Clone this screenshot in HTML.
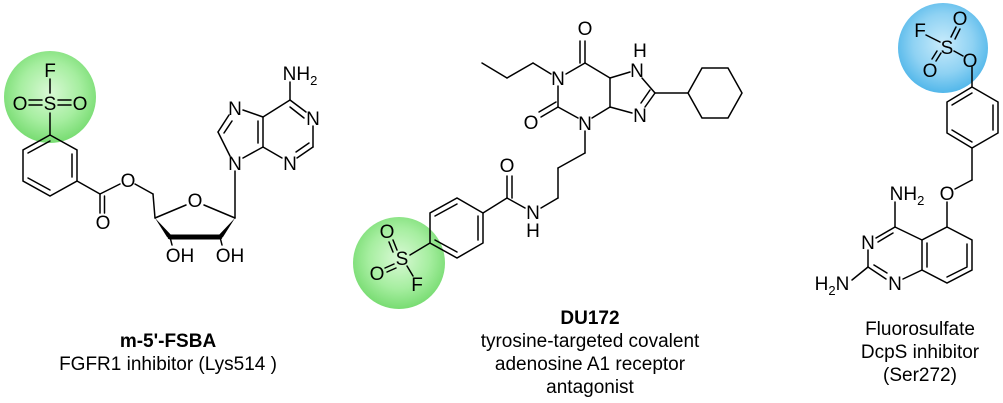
<!DOCTYPE html>
<html><head><meta charset="utf-8">
<style>
html,body{margin:0;padding:0;background:#fff;}
svg{display:block;}
.b{stroke:#000;stroke-width:1.5;fill:none;stroke-linecap:round;}
.a{font-family:"Liberation Sans",Arial,sans-serif;font-size:19px;fill:#000;text-anchor:middle;}
.s{font-size:13px;}
.l{font-family:"Liberation Sans",Arial,sans-serif;font-size:19px;fill:#000;text-anchor:middle;}
</style></head><body>
<svg width="1003" height="403" viewBox="0 0 1003 403" xmlns="http://www.w3.org/2000/svg">
<defs>
<radialGradient id="g" cx="50%" cy="45%" r="55%">
<stop offset="0" stop-color="#d9f9d5"/><stop offset="0.6" stop-color="#a6eea0"/><stop offset="1" stop-color="#78dc72"/></radialGradient>
<radialGradient id="bl" cx="50%" cy="45%" r="55%">
<stop offset="0" stop-color="#c8ebfb"/><stop offset="0.6" stop-color="#8fd2f3"/><stop offset="1" stop-color="#52b7ea"/></radialGradient>
</defs>
<circle cx="50" cy="97" r="46" fill="url(#g)"/>
<circle cx="399" cy="263" r="46" fill="url(#g)"/>
<circle cx="943" cy="48" r="45" fill="url(#bl)"/>

<!-- Molecule 1 -->
<g class="b">
<line x1="50" y1="79" x2="50" y2="93"/>
<line x1="29" y1="100" x2="42" y2="100"/><line x1="29" y1="105" x2="42" y2="105"/>
<line x1="58" y1="100" x2="71" y2="100"/><line x1="58" y1="105" x2="71" y2="105"/>
<line x1="50" y1="113" x2="50" y2="135"/>
<polygon points="50,135 77,150 77,181 50,196 23,181 23,150"/>
<line x1="72" y1="154" x2="72" y2="177"/>
<line x1="28" y1="178" x2="50" y2="190"/>
<line x1="28" y1="153" x2="50" y2="141"/>
<line x1="77" y1="181" x2="100" y2="194"/>
<line x1="100" y1="194" x2="100" y2="213"/><line x1="104.5" y1="196" x2="104.5" y2="213"/>
<line x1="100" y1="194" x2="120" y2="184"/>
<line x1="135" y1="184" x2="153" y2="194"/>
<line x1="153" y1="194" x2="155" y2="218"/>
<line x1="155" y1="218" x2="186" y2="205"/>
<line x1="204" y1="205" x2="235" y2="218"/>
<line x1="170" y1="237" x2="220" y2="237" stroke-width="5"/>
<line x1="170" y1="237" x2="172" y2="245"/>
<line x1="220" y1="237" x2="222" y2="245"/>
<line x1="235" y1="218" x2="235" y2="171"/>
<line x1="230" y1="156" x2="218" y2="132"/>
<line x1="218" y1="132" x2="229" y2="115"/><line x1="224" y1="133" x2="232" y2="121"/>
<line x1="243" y1="110" x2="263" y2="117"/>
<line x1="263" y1="117" x2="263" y2="147"/><line x1="258" y1="121" x2="258" y2="143"/>
<line x1="263" y1="147" x2="243" y2="158"/>
<line x1="263" y1="147" x2="282" y2="158"/>
<line x1="297" y1="158" x2="313" y2="147"/><line x1="296" y1="152" x2="309" y2="143"/>
<line x1="313" y1="147" x2="313" y2="126"/>
<line x1="306" y1="112" x2="290" y2="100"/><line x1="304" y1="118" x2="290" y2="107"/>
<line x1="290" y1="100" x2="263" y2="117"/>
<line x1="290" y1="100" x2="290" y2="82"/>
</g>
<polygon points="155,218 167,237 173,237" fill="#000"/>
<polygon points="235,218 217,237 223,237" fill="#000"/>
<g class="a">
<text x="50" y="77">F</text>
<text x="50" y="110">S</text>
<text x="20" y="110">O</text>
<text x="80" y="110">O</text>
<text x="103" y="229">O</text>
<text x="128" y="187">O</text>
<text x="195" y="207">O</text>
<text x="180" y="262">OH</text>
<text x="230" y="262">OH</text>
<text x="235" y="170">N</text>
<text x="235" y="115">N</text>
<text x="290" y="170">N</text>
<text x="313" y="125">N</text>
<text x="300" y="80">NH<tspan class="s" dy="5">2</tspan></text>
</g>

<!-- Molecule 2 -->
<g class="b">
<line x1="482" y1="63" x2="507" y2="78"/>
<line x1="507" y1="78" x2="533" y2="63"/>
<line x1="533" y1="63" x2="551" y2="74"/>
<line x1="566" y1="74" x2="585" y2="63"/>
<line x1="585" y1="63" x2="585" y2="41"/><line x1="580" y1="63" x2="580" y2="41"/>
<line x1="585" y1="63" x2="610" y2="78"/>
<line x1="610" y1="78" x2="630" y2="72"/>
<line x1="642" y1="78" x2="655" y2="93"/>
<line x1="655" y1="93" x2="645" y2="107"/><line x1="650" y1="90" x2="641" y2="103"/>
<line x1="632" y1="113" x2="610" y2="107"/>
<line x1="610" y1="107" x2="610" y2="78"/>
<line x1="610" y1="107" x2="592" y2="118"/>
<line x1="578" y1="118" x2="558" y2="107"/>
<line x1="558" y1="107" x2="558" y2="86"/>
<line x1="558" y1="107" x2="541" y2="117"/><line x1="556" y1="102" x2="539" y2="112"/>
<line x1="655" y1="93" x2="688" y2="93"/>
<polygon points="688,93 702,68 728,68 742,93 728,118 702,118"/>
<line x1="585" y1="131" x2="585" y2="153"/>
<line x1="585" y1="153" x2="558" y2="168"/>
<line x1="558" y1="168" x2="558" y2="198"/>
<line x1="558" y1="198" x2="541" y2="208"/>
<line x1="525" y1="208" x2="507" y2="198"/>
<line x1="507" y1="198" x2="507" y2="176"/><line x1="512" y1="198" x2="512" y2="176"/>
<line x1="507" y1="198" x2="483" y2="213"/>
<polygon points="483,213 457,198 430,213 430,243 457,258 483,243"/>
<line x1="457" y1="204" x2="435" y2="216"/>
<line x1="478" y1="216" x2="478" y2="240"/>
<line x1="435" y1="240" x2="457" y2="252"/>
<line x1="430" y1="243" x2="410" y2="255"/>
<line x1="393" y1="240" x2="397" y2="250"/><line x1="389" y1="242" x2="393" y2="252"/>
<line x1="385" y1="268" x2="394" y2="264"/><line x1="387" y1="272" x2="396" y2="268"/>
<line x1="407" y1="266" x2="413" y2="276"/>
</g>
<g class="a">
<text x="585" y="35">O</text>
<text x="558" y="85">N</text>
<text x="637" y="77">N</text>
<text x="640" y="57">H</text>
<text x="640" y="122">N</text>
<text x="585" y="130">N</text>
<text x="531" y="129">O</text>
<text x="533" y="219">N</text>
<text x="533" y="237">H</text>
<text x="507" y="172">O</text>
<text x="402" y="265">S</text>
<text x="387" y="238">O</text>
<text x="377" y="280">O</text>
<text x="417" y="291">F</text>
</g>

<!-- Molecule 3 -->
<g class="b">
<line x1="926" y1="35" x2="940" y2="42"/>
<line x1="951" y1="37" x2="956" y2="27"/><line x1="955" y1="39" x2="960" y2="29"/>
<line x1="936" y1="61" x2="941" y2="53"/><line x1="932" y1="59" x2="937" y2="51"/>
<line x1="954" y1="51" x2="963" y2="56"/>
<line x1="972" y1="67" x2="972" y2="87"/>
<polygon points="972,87 998,102 998,133 972,148 947,133 947,102"/>
<line x1="993" y1="105" x2="993" y2="130"/>
<line x1="952" y1="105" x2="972" y2="93"/>
<line x1="952" y1="130" x2="972" y2="142"/>
<line x1="972" y1="148" x2="972" y2="180"/>
<line x1="972" y1="180" x2="955" y2="189"/>
<line x1="947" y1="202" x2="947" y2="227"/>
<polygon points="947,227 972,240 972,270 947,283 922,270 922,240"/>
<line x1="967" y1="244" x2="967" y2="266"/>
<line x1="927" y1="243" x2="927" y2="267"/>
<line x1="947" y1="277" x2="967" y2="267"/>
<line x1="922" y1="240" x2="895" y2="227"/>
<line x1="895" y1="227" x2="876" y2="238"/><line x1="893" y1="233" x2="878" y2="242"/>
<line x1="868" y1="250" x2="868" y2="267"/>
<line x1="868" y1="267" x2="886" y2="279"/><line x1="874" y1="265" x2="887" y2="273"/>
<line x1="903" y1="279" x2="922" y2="270"/>
<line x1="895" y1="227" x2="895" y2="202"/>
<line x1="868" y1="267" x2="852" y2="280"/>
</g>
<g class="a">
<text x="920" y="37">F</text>
<text x="947" y="54">S</text>
<text x="960" y="25">O</text>
<text x="930" y="77">O</text>
<text x="970" y="67">O</text>
<text x="947" y="200">O</text>
<text x="907" y="200">NH<tspan class="s" dy="5">2</tspan></text>
<text x="868" y="249">N</text>
<text x="895" y="290">N</text>
<text x="832" y="290">H<tspan class="s" dy="5">2</tspan><tspan dy="-5">N</tspan></text>
</g>

<!-- Labels -->
<text class="l" x="168" y="347" font-weight="bold">m-5'-FSBA</text>
<text class="l" x="168" y="370">FGFR1 inhibitor (Lys514 )</text>
<text class="l" x="590" y="324" font-weight="bold">DU172</text>
<text class="l" x="590" y="347">tyrosine-targeted covalent</text>
<text class="l" x="590" y="370">adenosine A1 receptor</text>
<text class="l" x="590" y="393">antagonist</text>
<text class="l" x="920" y="335">Fluorosulfate</text>
<text class="l" x="920" y="358">DcpS inhibitor</text>
<text class="l" x="920" y="381">(Ser272)</text>
</svg>
</body></html>
